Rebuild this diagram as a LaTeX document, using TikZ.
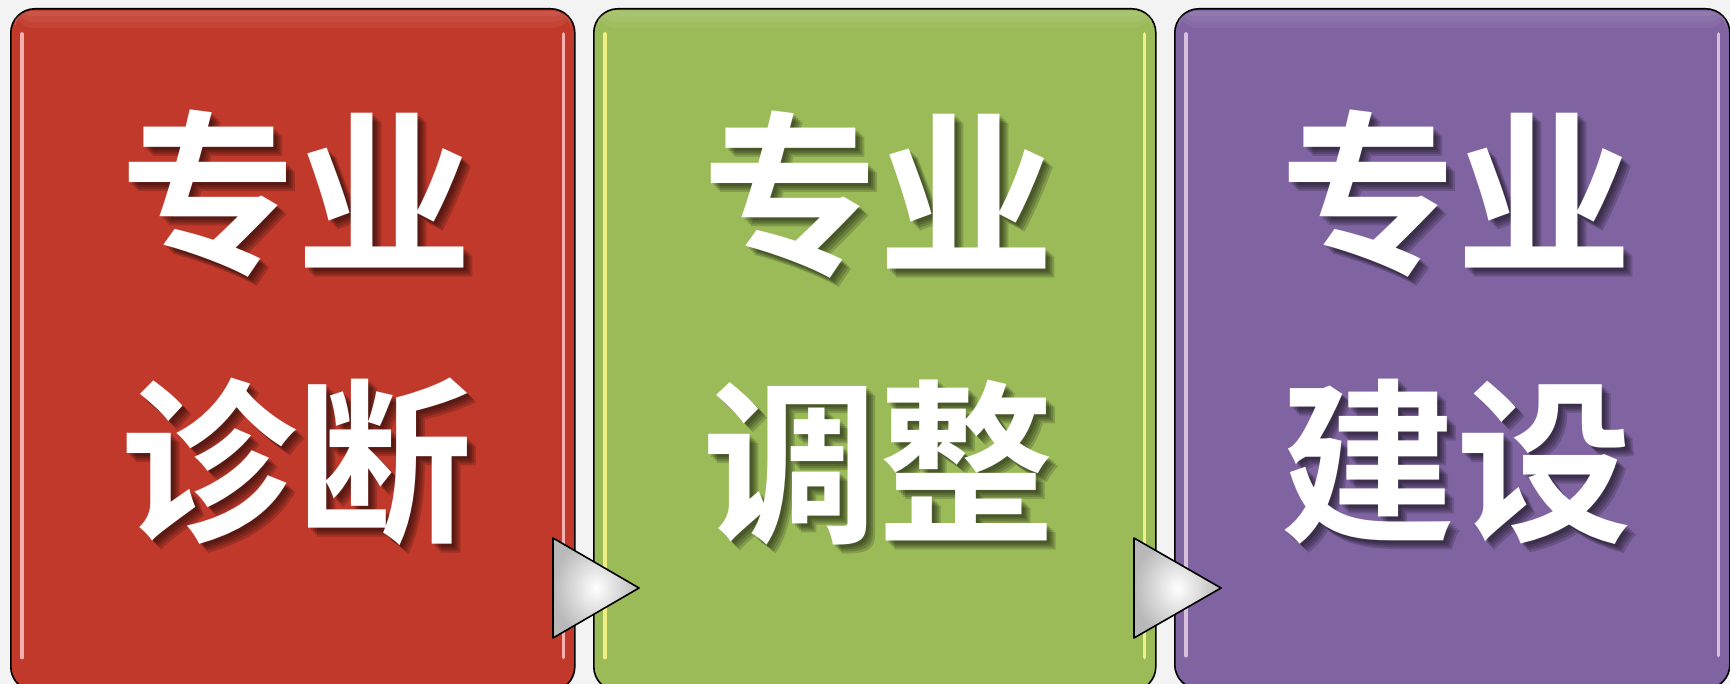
\documentclass[tikz,border=0pt]{standalone}
\usepackage{fontspec}
\newfontfamily\cjk{Noto Sans CJK SC}[BoldFont={Noto Sans CJK SC Bold}]
\usetikzlibrary{shadings}
\definecolor{bgc}{RGB}{243,243,243}
\definecolor{redc}{RGB}{192,57,43}
\definecolor{greenc}{RGB}{155,187,89}
\definecolor{purplec}{RGB}{128,100,162}
\begin{document}
\begin{tikzpicture}[x=1pt,y=-1pt,
  panel/.style={draw=black, line width=1.6pt, rounded corners=24pt, anchor=north west, inner sep=0pt},
  gloss/.style={draw=#1, line width=3.6pt, line cap=round, opacity=0.85},
  wordtext/.style={font=\cjk\bfseries\fontsize{176}{268}\selectfont, align=center, inner sep=0pt, text=white},
  wordshadow/.style={font=\cjk\bfseries\fontsize{176}{268}\selectfont, align=center, inner sep=0pt, text=black, text opacity=0.17},
  arrowtri/.style={draw=black, line width=1.6pt, line join=round, inner color=white, outer color=gray!55}
]
\useasboundingbox (0,0) rectangle (1730,684);
\fill[bgc] (0,0) rectangle (1730,684);
\begin{scope}
\clip (0,0) rectangle (1730,684);
% panels
\node[panel, fill=redc, minimum width=564pt, minimum height=682pt] (b1) at (10,8) {};
\node[panel, fill=greenc, minimum width=562pt, minimum height=682pt] (b2) at (593,8) {};
\node[panel, fill=purplec, minimum width=555pt, minimum height=680pt] (b3) at (1174,8) {};
% soft top sheen
\foreach \b in {b1,b2,b3}{
  \foreach \h in {8,14,20}{
    \fill[white, opacity=0.05, rounded corners=18pt] ([xshift=5pt,yshift=-3pt]\b.north west) rectangle ([xshift=-5pt,yshift=-\h pt]\b.north east);
  }
}
% gloss highlights (vertical inner lines)
\foreach \b/\c in {b1/red!22!white, b2/yellow!45!white, b3/violet!18!white}{
  \draw[gloss=\c] ([xshift=12pt,yshift=-26pt]\b.north west) -- ([xshift=12pt,yshift=34pt]\b.south west);
  \draw[gloss=\c] ([xshift=-12pt,yshift=-26pt]\b.north east) -- ([xshift=-12pt,yshift=34pt]\b.south east);
}
% texts: shadows
\foreach \d in {3,5,7,9}{
  \node[wordshadow] at ([xshift=\d pt+4pt, yshift=-\d pt+22pt]b1.center) {专业\\诊断};
  \node[wordshadow] at ([xshift=\d pt+4pt, yshift=-\d pt+22pt]b2.center) {专业\\调整};
  \node[wordshadow] at ([xshift=\d pt+4pt, yshift=-\d pt+22pt]b3.center) {专业\\建设};
}
\node[wordtext] (t1) at ([xshift=4pt, yshift=22pt]b1.center) {专业\\诊断};
\node[wordtext] (t2) at ([xshift=4pt, yshift=22pt]b2.center) {专业\\调整};
\node[wordtext] (t3) at ([xshift=4pt, yshift=22pt]b3.center) {专业\\建设};
% arrows between panels
\coordinate (a1) at (553,538);
\coordinate (a2) at (553,638);
\coordinate (a3) at (639,588);
\coordinate (c1) at (1134,538);
\coordinate (c2) at (1134,638);
\coordinate (c3) at (1221,588);
\shade[arrowtri] (a1) -- (a3) -- (a2) -- cycle;
\shade[arrowtri] (c1) -- (c3) -- (c2) -- cycle;
\end{scope}
\end{tikzpicture}
\end{document}
